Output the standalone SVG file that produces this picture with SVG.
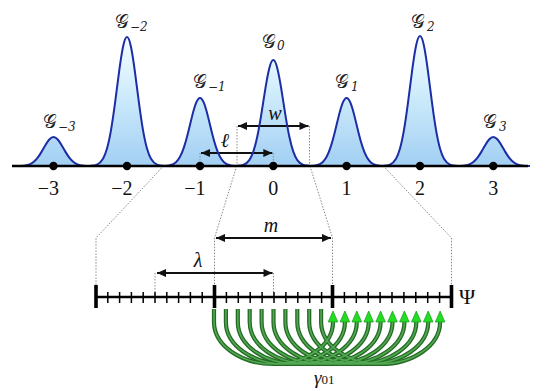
<svg xmlns="http://www.w3.org/2000/svg" xmlns:xlink="http://www.w3.org/1999/xlink" width="545" height="391" viewBox="0 0 545 391">
<style>
.pkl{fill:none;stroke:#1c2da6;stroke-width:2;}
.num{font-family:"Liberation Serif",serif;font-size:20px;fill:#111;}
.glab{font-family:"DejaVu Serif","DejaVu Sans","Liberation Serif",serif;font-size:19px;fill:#222;}
.sub{font-size:12px;font-style:italic;}
.var{font-family:"Liberation Serif",serif;font-style:italic;fill:#111;}
.dot{stroke:#8a8a8a;stroke-width:1;stroke-dasharray:1.5 1.5;fill:none;}
.arr{stroke:#111;stroke-width:1.8;fill:none;marker-start:url(#ah);marker-end:url(#ah);}
.ax{stroke:#000;stroke-width:2.6;fill:none;}
.bt{stroke:#000;stroke-width:3.6;}
.st{stroke:#000;stroke-width:1.5;}
.gout{fill:none;stroke:#246b24;stroke-width:4.2;marker-end:url(#gh);}
.gin{fill:none;stroke:#52a852;stroke-width:1.6;}
</style>
<defs>
<path id="pk" vector-effect="non-scaling-stroke" d="M-36.65,0 L-36,-0.15 C-34,-0.258 -32,-0.444 -30,-1.11 C-28,-1.776 -26,-2.918 -24,-5.61 C-22.667,-7.405 -21.333,-9.921 -20,-13.53 C-18.667,-17.139 -17.333,-21.869 -16,-27.8 C-14.667,-33.731 -13.333,-40.892 -12,-48.68 C-10.667,-56.468 -9.333,-64.865 -8,-72.61 C-6.667,-80.355 -5.333,-87.387 -4,-92.31 C-2.667,-97.233 -1.333,-100 0,-100 C1.333,-100 2.667,-97.233 4,-92.31 C5.333,-87.387 6.667,-80.355 8,-72.61 C9.333,-64.865 10.667,-56.468 12,-48.68 C13.333,-40.892 14.667,-33.731 16,-27.8 C17.333,-21.869 18.667,-17.139 20,-13.53 C21.333,-9.921 22.667,-7.405 24,-5.61 C26,-2.918 28,-1.776 30,-1.11 C32,-0.444 34,-0.258 36,-0.15 L36.65,0 Z"/>
<linearGradient id="fg" gradientUnits="userSpaceOnUse" x1="0" y1="36" x2="0" y2="166">
<stop offset="0" stop-color="#f6fdff"/>
<stop offset="0.4" stop-color="#d2eefc"/>
<stop offset="1" stop-color="#a2cff3"/>
</linearGradient>
<clipPath id="pc">
<use href="#pk" transform="translate(53.5,166) scale(1,0.29)"/>
<use href="#pk" transform="translate(127,166) scale(1,1.29)"/>
<use href="#pk" transform="translate(200,166) scale(1,0.68)"/>
<use href="#pk" transform="translate(273.3,166) scale(1,1.06)"/>
<use href="#pk" transform="translate(346.6,166) scale(1,0.68)"/>
<use href="#pk" transform="translate(420,166) scale(1,1.30)"/>
<use href="#pk" transform="translate(493.3,166) scale(1,0.29)"/>
</clipPath>
<marker id="ah" markerUnits="userSpaceOnUse" viewBox="-10 -5 11 10" markerWidth="11" markerHeight="10" refX="0" refY="0" orient="auto-start-reverse">
<path d="M0,0 L-9,-4 L-9,4 Z" fill="#111"/>
</marker>
<marker id="gh" markerUnits="userSpaceOnUse" viewBox="-1 -6 13 12" markerWidth="13" markerHeight="12" refX="0" refY="0" orient="auto">
<path d="M0,-4.8 L11,0 L0,4.8 Z" fill="#22dd22" stroke="#179a17" stroke-width="0.7"/>
</marker>
<g id="arcs">
<path d="M214,309 V322 A59.5 42 0 0 0 333,322"/>
<path d="M225.9,309 V322 A59.5 42 0 0 0 344.9,322"/>
<path d="M237.8,309 V322 A59.5 42 0 0 0 356.8,322"/>
<path d="M249.7,309 V322 A59.5 42 0 0 0 368.7,322"/>
<path d="M261.6,309 V322 A59.5 42 0 0 0 380.6,322"/>
<path d="M273.5,309 V322 A59.5 42 0 0 0 392.5,322"/>
<path d="M285.4,309 V322 A59.5 42 0 0 0 404.4,322"/>
<path d="M297.3,309 V322 A59.5 42 0 0 0 416.3,322"/>
<path d="M309.2,309 V322 A59.5 42 0 0 0 428.2,322"/>
<path d="M321.1,309 V322 A59.5 42 0 0 0 440.1,322"/>
</g>
</defs>
<rect width="545" height="391" fill="#fff"/>

<g id="peak-fills">
<rect x="0" y="20" width="545" height="147" fill="url(#fg)" clip-path="url(#pc)"/>
</g>

<g id="connectors">
<path class="dot" d="M237,126 V166 M309.5,126 V166 M200,153 V166 M273.3,153 V166"/>
<path class="dot" d="M163.5,166 L96,238 V297 M236.7,166 L214.5,238 V297 M310,166 L332.5,238 V297 M383.3,166 L451.5,238 V297 M155,273 V297 M273.5,273 V297"/>
<line class="arr" x1="201" y1="153" x2="272.3" y2="153"/>
<line class="arr" x1="238" y1="126" x2="308.5" y2="126"/>
<line class="arr" x1="216" y1="238" x2="331" y2="238"/>
<line class="arr" x1="157" y1="273" x2="272.5" y2="273"/>
<use href="#arcs" class="gout"/>
<use href="#arcs" class="gin"/>
</g>

<g id="peak-m3"><use href="#pk" class="pkl" transform="translate(53.5,166) scale(1,0.29)"/><text class="glab" x="43" y="128">𝒢<tspan class="sub" dx="1" dy="3">−3</tspan></text></g>
<g id="peak-m2"><use href="#pk" class="pkl" transform="translate(127,166) scale(1,1.29)"/><text class="glab" x="115" y="28">𝒢<tspan class="sub" dx="1" dy="3">−2</tspan></text></g>
<g id="peak-m1"><use href="#pk" class="pkl" transform="translate(200,166) scale(1,0.68)"/><text class="glab" x="193" y="88">𝒢<tspan class="sub" dx="1" dy="3">−1</tspan></text></g>
<g id="peak-0"><use href="#pk" class="pkl" transform="translate(273.3,166) scale(1,1.06)"/><text class="glab" x="262" y="48">𝒢<tspan class="sub" dx="1" dy="2">0</tspan></text></g>
<g id="peak-1"><use href="#pk" class="pkl" transform="translate(346.6,166) scale(1,0.68)"/><text class="glab" x="335" y="88">𝒢<tspan class="sub" dx="2" dy="3">1</tspan></text></g>
<g id="peak-2"><use href="#pk" class="pkl" transform="translate(420,166) scale(1,1.30)"/><text class="glab" x="411" y="28">𝒢<tspan class="sub" dx="2" dy="3">2</tspan></text></g>
<g id="peak-3"><use href="#pk" class="pkl" transform="translate(493.3,166) scale(1,0.29)"/><text class="glab" x="483" y="128">𝒢<tspan class="sub" dx="2" dy="3">3</tspan></text></g>

<g id="axis-g">
<line class="ax" x1="12" y1="166" x2="528" y2="166"/>
<g fill="#000">
<circle cx="53.5" cy="166" r="4.2"/><circle cx="127" cy="166" r="4.2"/><circle cx="200" cy="166" r="4.2"/><circle cx="273.3" cy="166" r="4.2"/><circle cx="346.6" cy="166" r="4.2"/><circle cx="420" cy="166" r="4.2"/><circle cx="493.3" cy="166" r="4.2"/>
</g>
<text class="num" x="59" y="195" text-anchor="end">−3</text>
<text class="num" x="132.5" y="195" text-anchor="end">−2</text>
<text class="num" x="205.5" y="195" text-anchor="end">−1</text>
<text class="num" x="273.3" y="195" text-anchor="middle">0</text>
<text class="num" x="346.6" y="195" text-anchor="middle">1</text>
<text class="num" x="420" y="195" text-anchor="middle">2</text>
<text class="num" x="493.3" y="195" text-anchor="middle">3</text>
</g>

<g id="labels">
<text class="var" x="225" y="147" font-size="20" text-anchor="middle">ℓ</text>
<text class="var" x="275" y="120" font-size="20" text-anchor="middle">w</text>
<text class="var" x="271" y="232" font-size="20" text-anchor="middle">m</text>
<text class="var" x="198" y="267" font-size="20" text-anchor="middle">λ</text>
<text class="var" x="314" y="384" font-size="19">γ<tspan font-style="normal" font-size="13">01</tspan></text>
</g>

<g id="psi-axis">
<line class="ax" x1="96" y1="297" x2="452" y2="297"/>
<g class="bt"><line x1="96" y1="285" x2="96" y2="308"/><line x1="214.5" y1="285" x2="214.5" y2="308"/><line x1="332.5" y1="285" x2="332.5" y2="308"/><line x1="451.5" y1="285" x2="451.5" y2="308"/></g>
<path class="st" d="M107.8,292V303M119.6,292V303M131.4,292V303M143.2,292V303M155,292V303M166.8,292V303M178.6,292V303M190.4,292V303M202.2,292V303M226.4,292V303M238.3,292V303M250.2,292V303M262.1,292V303M274,292V303M285.9,292V303M297.8,292V303M309.7,292V303M321.6,292V303M344.4,292V303M356.3,292V303M368.2,292V303M380.1,292V303M392,292V303M403.9,292V303M415.8,292V303M427.7,292V303M439.6,292V303"/>
<text x="459" y="304" font-family="Liberation Serif,serif" font-size="22" fill="#111">Ψ</text>
</g>
</svg>
